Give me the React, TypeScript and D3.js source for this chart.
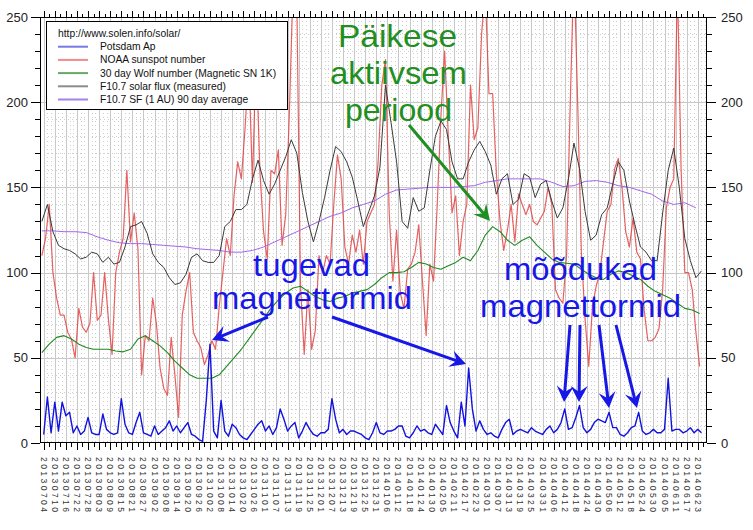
import { useMemo } from "react";
import * as d3 from "d3";

// Solar activity 2013-07 .. 2014-06 (solen.info style chart) with Estonian notes

const dateLabels = [
  "20130704", "20130710", "20130716", "20130722", "20130728", "20130803",
  "20130809", "20130815", "20130821", "20130827", "20130902", "20130908",
  "20130914", "20130920", "20130926", "20131002", "20131008", "20131014",
  "20131020", "20131026", "20131101", "20131107", "20131113", "20131119",
  "20131125", "20131201", "20131207", "20131213", "20131219", "20131225",
  "20131231", "20140106", "20140112", "20140118", "20140124", "20140130",
  "20140205", "20140211", "20140217", "20140223", "20140301", "20140307",
  "20140313", "20140319", "20140325", "20140331", "20140406", "20140412",
  "20140418", "20140424", "20140430", "20140506", "20140512", "20140518",
  "20140524", "20140530", "20140605", "20140611", "20140617", "20140623",
];

const yTicks = [0, 50, 100, 150, 200, 250];

// Potsdam Ap, every 2 days from 2013-07-04
const apStart = "20130704";
const apStep = 2;
const apValues = [
  5, 27, 6, 24, 7, 24, 16, 18, 6, 10, 5, 7, 15, 6, 5, 5, 17, 8, 6, 5, 6, 26, 11,
  6, 5, 12, 18, 6, 5, 4, 10, 5, 7, 9, 13, 7, 10, 6, 9, 12, 5, 4, 2, 1, 25,
  58, 7, 3, 25, 7, 4, 11, 9, 5, 3, 2, 5, 8, 11, 13, 7, 10, 5, 9, 20, 14, 7, 10,
  12, 3, 7, 12, 8, 5, 4, 6, 6, 8, 26, 14, 6, 8, 5, 7, 7, 6, 5, 3, 2, 6,
  12, 6, 5, 7, 7, 8, 10, 10, 4, 3, 6, 10, 7, 8, 6, 5, 11, 8, 5, 22, 12, 7, 3,
  24, 10, 44, 20, 7, 13, 8, 5, 6, 4, 3, 8, 12, 14, 5, 7, 8, 7, 6, 9, 7, 6,
  5, 8, 10, 6, 8, 12, 20, 8, 9, 15, 22, 9, 6, 8, 12, 14, 13, 12, 18, 9, 9, 5,
  4, 6, 9, 10, 18, 7, 5, 6, 8, 6, 6, 8, 38, 7, 8, 8, 6, 7, 9, 6, 8, 6,
];

// NOAA sunspot number, every 2 days from 2013-07-03
const sunspotStart = "20130703";
const sunspotStep = 2;
const sunspotValues = [
  110, 120, 140, 100, 85, 75, 75, 65, 61, 50, 79, 68, 65, 70, 100, 72, 75, 100,
  73, 52, 100, 112, 120, 160, 118, 135, 114, 40, 63, 60, 85, 70, 44, 32, 28, 62,
  40, 15, 75, 89, 100, 65, 60, 56, 46, 52,
  60, 55, 80, 100, 120, 110, 145, 165, 155, 185, 222, 153, 230, 160, 124, 108,
  160, 158, 172, 116, 134, 195, 270, 260, 92, 52, 90, 55, 66, 110, 100, 110,
  105, 140, 169, 155, 115, 105, 122, 112, 125, 105, 130, 135, 140,
  165, 210, 225, 135, 95, 125, 88, 79, 102, 105, 112, 128, 95, 63, 105, 95, 140,
  192, 230, 180, 135, 145, 110, 130, 140, 210, 178, 185, 240, 265, 205, 205,
  158, 130, 113, 125, 140, 118, 146, 140, 134, 140, 130, 128, 132,
  136, 150, 140, 90, 85, 82, 110, 200, 280, 200, 112, 73, 45, 80, 92, 100, 118,
  136, 140, 161, 167, 150, 124, 115, 132, 112, 108, 78, 60, 60, 62, 67, 90, 138,
  150, 155, 270, 160, 100, 100, 90, 65, 45,
];

// 30 day Wolf number, every 4 days from 2013-07-03
const wolfStart = "20130703";
const wolfStep = 4;
const wolfValues = [
  53, 58, 62, 63, 61, 58, 56, 55, 55, 55, 54, 53.5, 55, 61, 63, 60, 57, 53, 48,
  44, 40, 38, 38, 38, 40, 45, 50, 55, 61, 67, 73, 79, 84, 88, 91, 92, 89, 86,
  84, 83, 85, 86, 88, 89, 90, 93, 97, 100, 100, 100.5, 103, 106, 105, 103, 102,
  104, 106, 109, 107, 113, 122, 127, 124, 119, 116, 119, 121, 116, 112, 108,
  106, 105.5, 105, 102, 99, 97, 96, 99, 101, 100, 98, 96, 92, 89, 87, 85, 82,
  79, 78, 76,
];

// F10.7 solar flux (measured), every 3 days from 2013-07-03
const fluxStart = "20130703";
const fluxStep = 3;
const fluxValues = [
  130, 140, 124, 116, 114, 113, 111, 108, 109, 112, 111, 106, 109, 105, 106,
  115, 127, 128, 130, 123, 111, 106, 103, 97, 93, 94, 99, 109, 111, 107, 106,
  106, 110, 127, 130, 137, 137, 140, 155, 166, 154, 146, 152, 160, 168, 178,
  170, 147, 130, 118, 130, 144, 160, 174, 171, 165, 156, 142, 127, 136, 145,
  162, 210, 188, 165, 130, 126, 144, 136, 138, 160, 180, 189, 184, 165, 155,
  155, 165, 172, 177, 171, 163, 146, 155, 158, 140, 143, 158, 156, 144, 152,
  154, 142, 132, 138, 155, 176, 161, 136, 119, 122, 134, 138, 152, 165, 160,
  142, 128, 115, 112, 107, 107, 135, 160, 173, 150, 120, 107, 97, 101,
];

// F10.7 SF (1 AU) 90 day average, every 6 days from 2013-07-03
const avgStart = "20130703";
const avgStep = 6;
const avgValues = [
  124.5, 124.5, 124, 124, 123.5, 121, 119, 117.5, 117, 117, 116.5, 116, 115.5,
  115, 114, 113.5, 113, 112, 112, 113, 115, 118, 121, 124, 127, 130, 133, 135,
  138, 140, 142, 146, 148.5, 149, 149.5, 150, 150, 150, 150.5, 151, 153, 154,
  155, 155, 155, 155, 153, 150.5, 151, 153.5, 154, 153, 151, 150, 148, 146,
  142, 140, 141, 138,
];

const legendLabels = [
  "Potsdam Ap",
  "NOAA sunspot number",
  "30 day Wolf number (Magnetic SN 1K)",
  "F10.7 solar flux (measured)",
  "F10.7 SF (1 AU) 90 day average",
];
const legendColors = ["#7878e6", "#f08c8c", "#66a866", "#8c8c8c", "#a87ee8"];

const FONT = "Arial, 'Liberation Sans', sans-serif";
const W = 753;
const H = 530;
const X0 = 40;
const X1 = 707;
const Y0 = 17;
const Y1 = 443;
const GREEN = "#1f8f22";
const BLUE = "#1717e8";

const parse = d3.utcParse("%Y%m%d");

type Pt = { date: Date; value: number };

function series(start: string, step: number, values: number[]): Pt[] {
  const t0 = parse(start) as Date;
  return values.map((value, i) => ({ date: d3.utcDay.offset(t0, i * step), value }));
}

function Arrow({
  x1, y1, x2, y2, color, head = 16, headW = 17,
}: { x1: number; y1: number; x2: number; y2: number; color: string; head?: number; headW?: number }) {
  const ang = (Math.atan2(y2 - y1, x2 - x1) * 180) / Math.PI;
  const len = Math.hypot(x2 - x1, y2 - y1);
  return (
    <g transform={`translate(${x2},${y2}) rotate(${ang})`}>
      <line x1={-len} y1={0} x2={-head * 0.6} y2={0} stroke={color} strokeWidth={3} />
      <polygon
        points={`0,0 ${-head},${-headW / 2} ${-head * 0.62},0 ${-head},${headW / 2}`}
        fill={color}
      />
    </g>
  );
}

export default function App() {
  const x = useMemo(
    () =>
      d3
        .scaleUtc()
        .domain([parse("20130702") as Date, parse("20140628") as Date])
        .range([X0, X1]),
    [],
  );
  const y = useMemo(() => d3.scaleLinear().domain([0, 250]).range([Y1, Y0]), []);

  const line = d3
    .line<Pt>()
    .x((d) => x(d.date))
    .y((d) => y(d.value));

  const first = parse(dateLabels[0]) as Date;
  const [d0, d1] = x.domain();
  const days = d3.utcDay.range(d0, d3.utcDay.offset(d1, 1)).map((d) => ({
    date: d,
    off: Math.round((+d - +first) / 864e5),
  }));
  const minorTicks = days.filter((d) => ((d.off % 3) + 3) % 3 === 0);
  const dotCols = days.filter((d) => ((d.off % 2) + 2) % 2 === 0 && ((d.off % 6) + 6) % 6 !== 0);
  const labelDates = dateLabels.map((s) => parse(s) as Date);
  const yMinor = d3.range(0, 251, 10);

  const px = (v: number) => Math.round(v) + 0.5;

  return (
    <svg
      width={W}
      height={H}
      style={{ position: "absolute", left: 0, top: 0, background: "#fff" }}
      fontFamily={FONT}
    >
      <defs>
        <clipPath id="plotClip">
          <rect x={X0} y={Y0} width={X1 - X0} height={Y1 - Y0} />
        </clipPath>
      </defs>
      <rect width={W} height={H} fill="#fff" />

      {/* grid */}
      <g>
        {dotCols.map((d, i) => (
          <line key={`dc${i}`} x1={px(x(d.date))} x2={px(x(d.date))} y1={Y0} y2={Y1}
            stroke="#cdcdcd" strokeDasharray="1 3" />
        ))}
        {yMinor.filter((v) => v % 50 !== 0).map((v) => (
          <line key={`dr${v}`} x1={X0} x2={X1} y1={px(y(v))} y2={px(y(v))}
            stroke="#cdcdcd" strokeDasharray="1 3" />
        ))}
        {labelDates.map((d, i) => (
          <line key={`gc${i}`} x1={px(x(d))} x2={px(x(d))} y1={Y0} y2={Y1} stroke="#c8c8c8" />
        ))}
        {yTicks.filter((v) => v > 0 && v < 250).map((v) => (
          <line key={`gr${v}`} x1={X0} x2={X1} y1={px(y(v))} y2={px(y(v))} stroke="#c8c8c8" />
        ))}
      </g>

      {/* data */}
      <g clipPath="url(#plotClip)" fill="none" strokeLinejoin="round">
        <path d={line(series(sunspotStart, sunspotStep, sunspotValues)) ?? ""}
          stroke="#e23a3a" strokeOpacity={0.8} strokeWidth={1.2} />
        <path d={line(series(wolfStart, wolfStep, wolfValues)) ?? ""}
          stroke="#1f8a1f" strokeWidth={1.1} />
        <path d={line(series(avgStart, avgStep, avgValues)) ?? ""}
          stroke="#a366ee" strokeWidth={1} />
        <path d={line(series(fluxStart, fluxStep, fluxValues)) ?? ""}
          stroke="#3a3a3a" strokeWidth={1} />
        <path d={line(series(apStart, apStep, apValues)) ?? ""}
          stroke="#1212e0" strokeWidth={1.4} />
      </g>

      {/* frame */}
      <rect x={X0 + 0.5} y={Y0 + 0.5} width={X1 - X0 - 1} height={Y1 - Y0 - 1}
        fill="none" stroke="#000" />

      {/* x ticks top and bottom, y ticks left and right */}
      <g stroke="#000">
        {minorTicks.map((d, i) => {
          const long = ((d.off % 6) + 6) % 6 === 0;
          const xx = px(x(d.date));
          return (
            <g key={`t${i}`}>
              <line x1={xx} x2={xx} y1={Y1} y2={Y1 + (long ? 7 : 4)} />
              <line x1={xx} x2={xx} y1={Y0} y2={Y0 - (long ? 6 : 3)} />
            </g>
          );
        })}
        {yMinor.map((v) => {
          const major = v % 50 === 0;
          const yy = px(y(v));
          return (
            <g key={`yt${v}`}>
              <line x1={X0 - (major ? 9 : 5)} x2={X0} y1={yy} y2={yy} />
              <line x1={X1} x2={X1 + (major ? 9 : 5)} y1={yy} y2={yy} />
            </g>
          );
        })}
      </g>

      {/* y labels */}
      <g fontSize={13} fill="#222">
        {yTicks.map((v) => (
          <g key={`yl${v}`}>
            <text x={28} y={y(v)} textAnchor="end" dominantBaseline="central">{v}</text>
            <text x={721} y={y(v)} dominantBaseline="central">{v}</text>
          </g>
        ))}
      </g>

      {/* x labels, vertical */}
      <g fontSize={8.5} fill="#333">
        {labelDates.map((d, i) => (
          <text key={`xl${i}`} transform={`translate(${x(d)},457) rotate(90)`}
            dominantBaseline="central" textLength={55} lengthAdjust="spacing">
            {dateLabels[i]}
          </text>
        ))}
      </g>

      {/* legend */}
      <g>
        <rect x={46.5} y={21.5} width={241} height={88} fill="#fff" stroke="#000" />
        <text x={58} y={33.5} fontSize={10.3} dominantBaseline="central" fill="#111">
          http://www.solen.info/solar/
        </text>
        {legendLabels.map((lab, i) => {
          const yy = 46.7 + i * 13.2;
          return (
            <g key={lab}>
              <line x1={58} x2={88} y1={yy} y2={yy} stroke={legendColors[i]} strokeWidth={2} />
              <text x={100} y={yy} fontSize={10.3} dominantBaseline="central" fill="#111">{lab}</text>
            </g>
          );
        })}
      </g>

      {/* annotations */}
      <g fontSize={32}>
        <text x={338} y={47} fill={GREEN} textLength={119} lengthAdjust="spacingAndGlyphs">Päikese</text>
        <text x={330} y={84} fill={GREEN} textLength={137} lengthAdjust="spacingAndGlyphs">aktiivsem</text>
        <text x={345} y={121} fill={GREEN} textLength={107} lengthAdjust="spacingAndGlyphs">periood</text>

        <text x={253} y={276} fill={BLUE} textLength={117} lengthAdjust="spacingAndGlyphs">tugevad</text>
        <text x={212} y={309} fill={BLUE} textLength={200} lengthAdjust="spacingAndGlyphs">magnettormid</text>

        <text x={504} y={280} fill={BLUE} textLength={153} lengthAdjust="spacingAndGlyphs">mõõdukad</text>
        <text x={480} y={317} fill={BLUE} textLength={201} lengthAdjust="spacingAndGlyphs">magnettormid</text>
      </g>
      <Arrow x1={409} y1={125} x2={490} y2={221} color={GREEN} />
      <Arrow x1={268} y1={317} x2={212} y2={340} color={BLUE} />
      <Arrow x1={332} y1={317} x2={466} y2={364} color={BLUE} />
      <Arrow x1={570} y1={325} x2={564} y2={402} color={BLUE} />
      <Arrow x1={580} y1={325} x2={579} y2={402} color={BLUE} />
      <Arrow x1={599} y1={325} x2={609} y2={408} color={BLUE} />
      <Arrow x1={616} y1={325} x2={637} y2={408} color={BLUE} />
    </svg>
  );
}
